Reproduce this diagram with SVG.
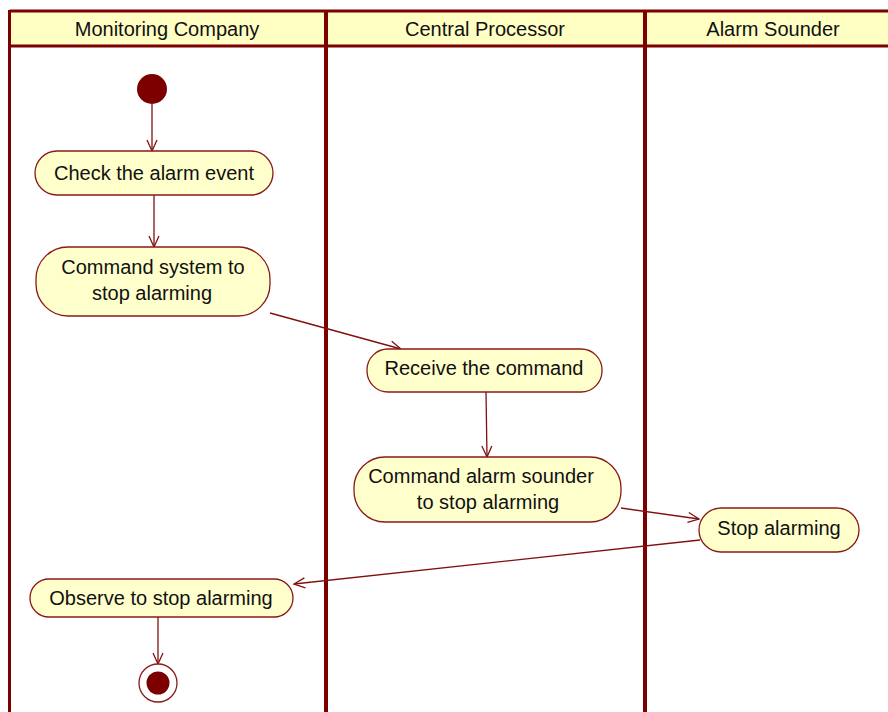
<svg xmlns="http://www.w3.org/2000/svg" width="888" height="712" viewBox="0 0 888 712">
  <style>
    .lane-head { fill: #ffffc4; }
    .lane-line { stroke: #7d0000; stroke-width: 4; fill: none; }
    .frame { stroke: #7d0000; stroke-width: 3; fill: none; }
    .action { fill: #ffffcc; stroke: #8a1a1a; stroke-width: 1.3; }
    .label { font-family: "Liberation Sans", Arial, sans-serif; font-size: 20px; fill: #111; text-anchor: middle; }
    .flow { stroke: #801010; stroke-width: 1.3; fill: none; marker-end: url(#open-arrow); }
    .dot { fill: #7d0000; }
  </style>
  <defs>
    <marker id="open-arrow" viewBox="-12 -7 14 14" refX="0" refY="0" markerWidth="14" markerHeight="14" markerUnits="userSpaceOnUse" orient="auto">
      <path d="M-11,-5 L0,0 L-11,5" fill="none" stroke="#801010" stroke-width="1.3"/>
    </marker>
  </defs>

  <rect width="888" height="712" fill="#ffffff"/>

  <!-- swimlane headers -->
  <g id="lanes">
    <rect class="lane-head" x="10" y="11" width="878" height="35"/>
    <line class="frame" x1="9.5" y1="11" x2="888" y2="11"/>
    <line class="frame" x1="9.5" y1="46" x2="888" y2="46" stroke-width="2.5"/>
    <line class="frame" x1="9.5" y1="10" x2="9.5" y2="712"/>
    <line class="lane-line" x1="326" y1="10" x2="326" y2="712"/>
    <line class="lane-line" x1="645" y1="10" x2="645" y2="712"/>
    <text class="label" x="167" y="36">Monitoring Company</text>
    <text class="label" x="485" y="36">Central Processor</text>
    <text class="label" x="773" y="36">Alarm Sounder</text>
  </g>

  <!-- connectors -->
  <g id="connectors">
    <line class="flow" x1="152" y1="104" x2="152" y2="151"/>
    <line class="flow" x1="154" y1="195" x2="154" y2="247"/>
    <line class="flow" x1="270" y1="313" x2="401" y2="349"/>
    <line class="flow" x1="486" y1="392" x2="487" y2="457"/>
    <line class="flow" x1="621" y1="508" x2="699" y2="519"/>
    <line class="flow" x1="700" y1="540" x2="294" y2="584"/>
    <line class="flow" x1="158" y1="617" x2="158" y2="664"/>
  </g>

  <g id="start">
    <circle class="dot" cx="152" cy="89" r="15"/>
  </g>

  <g id="check-alarm">
    <rect class="action" x="35" y="151" width="238" height="44" rx="22"/>
    <text class="label" x="154" y="180">Check the alarm event</text>
  </g>

  <g id="command-system">
    <rect class="action" x="36" y="247" width="234" height="69" rx="32"/>
    <text class="label" x="153" y="274">Command system to</text>
    <text class="label" x="152" y="300">stop alarming</text>
  </g>

  <g id="receive-command">
    <rect class="action" x="367" y="349" width="235" height="43" rx="21"/>
    <text class="label" x="484" y="375">Receive the command</text>
  </g>

  <g id="command-sounder">
    <rect class="action" x="354" y="457" width="267" height="65" rx="31"/>
    <text class="label" x="481" y="483">Command alarm sounder</text>
    <text class="label" x="488" y="509">to stop alarming</text>
  </g>

  <g id="stop-alarming">
    <rect class="action" x="699" y="508" width="160" height="44" rx="22"/>
    <text class="label" x="779" y="535">Stop alarming</text>
  </g>

  <g id="observe">
    <rect class="action" x="30" y="579" width="263" height="38" rx="19"/>
    <text class="label" x="161" y="605">Observe to stop alarming</text>
  </g>

  <g id="end">
    <circle cx="158" cy="683" r="19" fill="#ffffff" stroke="#8a1a1a" stroke-width="1.3"/>
    <circle class="dot" cx="158" cy="683" r="11.5"/>
  </g>
</svg>
